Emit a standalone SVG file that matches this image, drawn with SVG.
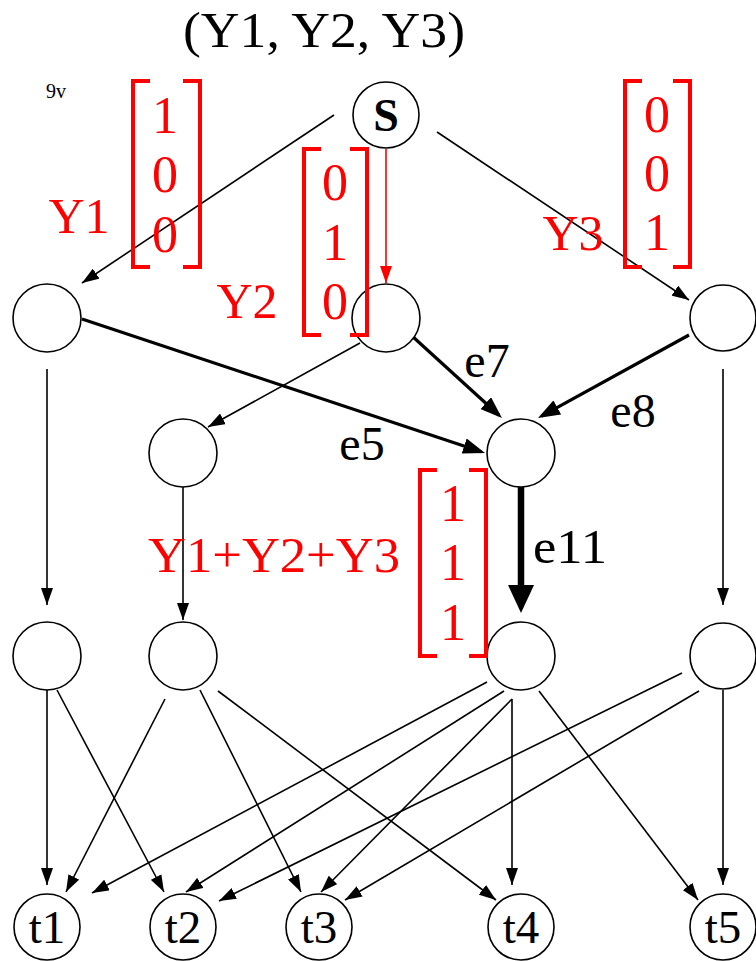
<svg xmlns="http://www.w3.org/2000/svg" width="756" height="961" viewBox="0 0 756 961" font-family="'Liberation Serif', 'Times New Roman', serif">
<style>
.node{fill:#fff;stroke:#000;stroke-width:1.6}
.thin{stroke:#000;stroke-width:1.6;fill:none}
.thick{stroke:#000;stroke-width:3.2;fill:none}
.red{stroke:#f00;stroke-width:1.6;fill:none}
.br{stroke:#f00;stroke-width:4;fill:none;stroke-linejoin:miter}
.ttl{font-family:"Liberation Serif","Times New Roman",serif;font-size:50px;fill:#000;text-anchor:middle}
.sm{font-family:"Liberation Serif","Times New Roman",serif;font-size:20px;fill:#000}
.sl{font-family:"Liberation Serif","Times New Roman",serif;font-size:46px;font-weight:bold;fill:#000;text-anchor:middle}
.lbl{font-family:"Liberation Serif","Times New Roman",serif;font-size:48px;fill:#000;text-anchor:middle}
.rl{font-family:"Liberation Serif","Times New Roman",serif;font-size:50px;fill:#f00;text-anchor:middle}
.dg{font-family:"Liberation Serif","Times New Roman",serif;font-size:52px;fill:#f00;text-anchor:middle}
.tl{font-family:"Liberation Serif","Times New Roman",serif;font-size:47px;fill:#000;text-anchor:middle}
</style>
<defs>
<marker id="ah" markerUnits="userSpaceOnUse" markerWidth="17" markerHeight="12" refX="17" refY="6" orient="auto"><path d="M0,0 L17,6 L0,12 z" fill="#000"/></marker>
<marker id="ahr" markerUnits="userSpaceOnUse" markerWidth="17" markerHeight="12" refX="17" refY="6" orient="auto"><path d="M0,0 L17,6 L0,12 z" fill="#f00"/></marker>
<marker id="ahb" markerUnits="userSpaceOnUse" markerWidth="22" markerHeight="16" refX="18" refY="8" orient="auto"><path d="M0,0 L22,8 L0,16 z" fill="#000"/></marker>
<marker id="ahx" markerUnits="userSpaceOnUse" markerWidth="28" markerHeight="26" refX="2" refY="13" orient="auto"><path d="M0,0 L28,13 L0,26 z" fill="#000"/></marker>
</defs>
<rect width="756" height="961" fill="#fff"/>

<text class="ttl" x="324" y="47" textLength="282" lengthAdjust="spacingAndGlyphs">(Y1, Y2, Y3)</text>
<text class="sm" x="46" y="98">9v</text>

<g id="connectors">
<line class="thin" x1="334" y1="115" x2="82" y2="283" marker-end="url(#ah)"/>
<line class="red" x1="386" y1="149" x2="386" y2="283" marker-end="url(#ahr)"/>
<line class="thin" x1="437" y1="132" x2="689" y2="300" marker-end="url(#ah)"/>
<line class="thick" x1="82" y1="319" x2="481.2" y2="451.7" marker-end="url(#ahb)"/>
<line class="thick" x1="412" y1="336" x2="499" y2="415.3" marker-end="url(#ahb)"/>
<line class="thick" x1="689" y1="335" x2="541.5" y2="416.1" marker-end="url(#ahb)"/>
<line class="thin" x1="360" y1="343" x2="208" y2="427" marker-end="url(#ah)"/>
<line class="thin" x1="47" y1="369" x2="47" y2="605" marker-end="url(#ah)"/>
<line class="thin" x1="183" y1="487" x2="183" y2="620" marker-end="url(#ah)"/>
<line class="thin" x1="723" y1="369" x2="723" y2="605" marker-end="url(#ah)"/>
<line x1="521" y1="487" x2="521" y2="587" stroke="#000" stroke-width="6.5" marker-end="url(#ahx)"/>
<line class="thin" x1="47" y1="690" x2="47" y2="885" marker-end="url(#ah)"/>
<line class="thin" x1="57" y1="690" x2="164" y2="892" marker-end="url(#ah)"/>
<line class="thin" x1="165" y1="699" x2="66" y2="892" marker-end="url(#ah)"/>
<line class="thin" x1="200" y1="690" x2="301" y2="892" marker-end="url(#ah)"/>
<line class="thin" x1="218" y1="691" x2="496" y2="900" marker-end="url(#ah)"/>
<line class="thin" x1="487" y1="682" x2="92" y2="893" marker-end="url(#ah)"/>
<line class="thin" x1="504" y1="691" x2="186" y2="892" marker-end="url(#ah)"/>
<line class="thin" x1="512" y1="699" x2="321" y2="892" marker-end="url(#ah)"/>
<line class="thin" x1="512" y1="699" x2="512" y2="885" marker-end="url(#ah)"/>
<line class="thin" x1="539" y1="691" x2="698" y2="900" marker-end="url(#ah)"/>
<line class="thin" x1="682" y1="673" x2="219" y2="901" marker-end="url(#ah)"/>
<line class="thin" x1="699" y1="691" x2="345" y2="900" marker-end="url(#ah)"/>
<line class="thin" x1="723" y1="690" x2="723" y2="885" marker-end="url(#ah)"/>
</g>

<g id="nS"><circle class="node" cx="386" cy="115" r="33"/><text class="sl" x="386" y="131">S</text></g>
<g id="n1"><circle class="node" cx="47" cy="318" r="34"/></g>
<g id="n2"><circle class="node" cx="386" cy="318" r="34"/></g>
<g id="n3"><circle class="node" cx="723" cy="318" r="33"/></g>
<g id="n4"><circle class="node" cx="183" cy="453" r="34"/></g>
<g id="n5"><circle class="node" cx="521" cy="453" r="34"/></g>
<g id="n6"><circle class="node" cx="47" cy="656" r="34"/></g>
<g id="n7"><circle class="node" cx="183" cy="656" r="34"/></g>
<g id="n8"><circle class="node" cx="521" cy="656" r="34"/></g>
<g id="n9"><circle class="node" cx="723" cy="656" r="33"/></g>
<g id="t1"><circle class="node" cx="47" cy="927" r="33"/><text class="tl" x="47" y="943">t1</text></g>
<g id="t2"><circle class="node" cx="183" cy="927" r="33"/><text class="tl" x="183" y="943">t2</text></g>
<g id="t3"><circle class="node" cx="319" cy="927" r="33"/><text class="tl" x="319" y="943">t3</text></g>
<g id="t4"><circle class="node" cx="521" cy="927" r="33"/><text class="tl" x="521" y="943">t4</text></g>
<g id="t5"><circle class="node" cx="723" cy="927" r="33"/><text class="tl" x="723" y="943">t5</text></g>

<g id="edge-labels">
<text class="lbl" x="362" y="460">e5</text>
<text class="lbl" x="487" y="377">e7</text>
<text class="lbl" x="633" y="427">e8</text>
<text class="lbl" x="570" y="563" textLength="74" lengthAdjust="spacingAndGlyphs">e11</text>
</g>

<g id="vectors">
<text class="rl" x="79" y="233">Y1</text>
<text class="rl" x="247" y="318">Y2</text>
<text class="rl" x="573" y="250">Y3</text>
<text class="rl" x="274" y="572" textLength="252" lengthAdjust="spacingAndGlyphs">Y1+Y2+Y3</text>

<path class="br" d="M150,81 H133 V267 H150 M183,81 H200 V267 H183"/>
<text class="dg" x="165" y="133">1</text><text class="dg" x="165" y="192">0</text><text class="dg" x="165" y="252">0</text>

<path class="br" d="M321,149 H304 V335 H321 M350,149 H367 V335 H350"/>
<text class="dg" x="335" y="200">0</text><text class="dg" x="335" y="260">1</text><text class="dg" x="335" y="319">0</text>

<path class="br" d="M642,81 H625 V267 H642 M673,81 H690 V267 H673"/>
<text class="dg" x="657" y="132">0</text><text class="dg" x="657" y="191">0</text><text class="dg" x="657" y="250">1</text>

<path class="br" d="M437,470 H420 V656 H437 M469,470 H486 V656 H469"/>
<text class="dg" x="453" y="521">1</text><text class="dg" x="453" y="580">1</text><text class="dg" x="453" y="640">1</text>
</g>
</svg>
